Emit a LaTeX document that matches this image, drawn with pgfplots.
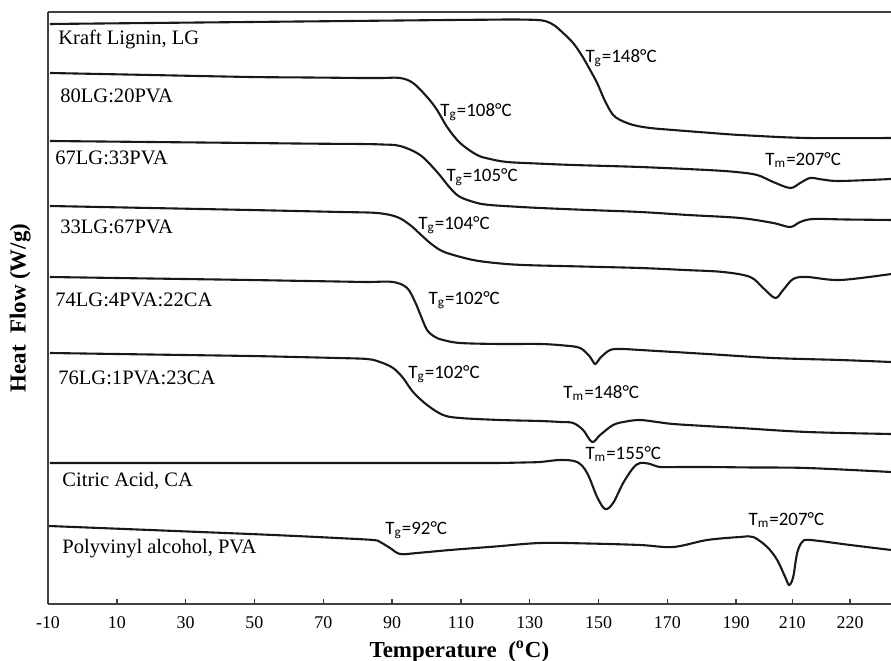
\documentclass[border=0pt]{standalone}
\usepackage{fontspec}
\setmainfont{Liberation Serif}
\newfontfamily\carlito{Carlito}
\usepackage{pgfplots}
\pgfplotsset{compat=1.18}
\tikzset{
  curve/.style={black!90, line width=1.05bp, smooth, tension=0.55},
  lab/.style={anchor=west, inner sep=0pt, font=\fontsize{10.3}{12}\selectfont},
  ann/.style={anchor=west, inner sep=0pt, font=\carlito\fontsize{9.5}{11}\selectfont},
}
\begin{document}
\begin{tikzpicture}
\begin{axis}[
  scale only axis, width=421.5bp, height=296bp,
  xmin=-10, xmax=235, ymin=0, ymax=592,
  axis x line=bottom, axis y line=left,
  axis line style={-, draw=black!75, line width=0.75bp},
  xtick={-10,10,30,50,70,90,110,130,150,170,190,206.3,223.1},
  xticklabels={-10,10,30,50,70,90,110,130,150,170,190,210,220},
  ytick=\empty,
  tick align=inside, major tick length=2.5bp,
  tick style={draw=black!75, line width=0.75bp},
  xticklabel style={font=\fontsize{9}{10}\selectfont, yshift=-3bp},
  xlabel={\bfseries Temperature\ \ (\textsuperscript{o}C)},
  xlabel style={font=\fontsize{11.5}{13}\selectfont, at={(axis description cs:0.488,-0.08)}, anchor=center},
  ylabel={\bfseries Heat\ \ Flow (W/g)},
  ylabel style={font=\fontsize{11.5}{13}\selectfont, at={(axis description cs:-0.033,0.5)}, anchor=center},
  clip=true,
]
\coordinate (SW) at (rel axis cs:0,0);
\coordinate (NE) at (rel axis cs:1,1);
\draw[black!75, line width=0.75bp] (rel axis cs:0,1) -- (rel axis cs:1,1);

% Kraft Lignin, LG
\addplot[curve, no marks] coordinates {
(-9.42,580) (19.65,581) (48.72,582) (77.79,583) (106.86,584) (118,584.3) (125.4,584.5) (132.15,584) (134.9,582.5)
(137.2,578.5) (139.71,571) (142.62,561) (145.23,548) (147.56,534) (149.59,521) (151.34,507)
(152.79,497) (154.24,489) (156.28,484) (160.06,479) (165.00,476) (171.69,474) (181,471.5) (191.16,469)
(210.64,466) (235.06,466)};
% 80LG:20PVA
\addplot[curve, no marks] coordinates {
(-9.42,531) (19.65,529) (48.72,527) (62,526.6) (72,526.3) (80.70,526) (87,526) (92.33,526) (96.10,521) (100.17,507)
(103.08,494) (105.99,477) (109.77,461) (114.71,449) (118.49,445) (123.43,442) (132,440.5) (142.62,439)
(162.09,437) (181.57,434) (190,432) (196.10,429) (200.76,422) (205.70,416) (208.60,421) (211.51,426)
(215,424.5) (220.23,423) (235.06,425)};
% 67LG:33PVA
\addplot[curve, no marks] coordinates {
(-9.42,463) (19.65,462) (48.72,461) (62,460.5) (72,460.2) (80.70,460) (87,459.5) (92.33,458) (98.14,449) (103.08,432) (106.86,416)
(109.77,407) (114.71,401) (118.49,399) (125,397.5) (133.02,396) (147,394) (162.09,392) (176,389) (191.16,386) (200.76,381)
(205.70,377) (208.60,382) (212.38,385) (222,384.5) (235.06,384)};
% 33LG:67PVA
\addplot[curve, no marks] coordinates {
(-9.42,398) (19.65,396) (48.72,394) (62,393) (75,392) (85.64,391) (91.45,387) (95.23,379) (98.14,370) (101.05,361)
(103.95,354) (106.86,350) (113.55,344) (120,341) (128.08,339) (145,337.5) (162.09,336) (175,334) (186.22,332) (194.07,327)
(197.85,316) (201.34,306) (203.66,314) (206.57,325) (210.64,327) (220.23,324) (235.06,330)};
% 74LG:4PVA:22CA
\addplot[curve, no marks] coordinates {
(-9.42,327) (19.65,325.5) (48.72,324) (62,323.2) (74,322.5) (82.73,322) (90.29,322) (94.36,316) (96.69,302) (98.14,290)
(100.17,274) (102.50,267) (104.83,264) (109.77,261) (121.40,260) (133.02,260) (140,258.5) (144.65,256)
(147.56,247) (149.01,240) (150.47,246) (153.37,254) (157,255) (162.09,254) (172,252) (181.57,250) (200.76,246)
(220.23,244) (235.06,242)};
% 76LG:1PVA:23CA
\addplot[curve, no marks] coordinates {
(-9.42,251) (19.65,249.5) (48.72,248) (62,247) (74,246) (82.73,245) (86.51,242) (90.29,236) (93.20,226) (96.10,212)
(100.17,199) (104.83,189) (109.77,186) (121.40,184) (133.02,183) (139,182) (142.62,181) (145.52,174)
(148.14,162) (150.47,169) (154.24,179) (158,182.5) (162.09,184) (167,182) (171.69,180) (181,178) (191.16,176) (210.64,172)
(235.06,170)};
% Citric Acid, CA
\addplot[curve, no marks] coordinates {
(-9.42,141) (19.65,141) (48.72,141) (77.79,141) (106.86,141) (120,141) (128,141.5) (133.02,142) (138.84,144) (143.78,142) (146.69,131)
(149.59,107) (151.92,95) (154.24,101) (157.15,121) (160.06,136) (162.09,141) (165.00,140)
(167.91,137) (174,137) (181.57,137) (195,136.5) (210.64,136) (235.06,132)};
% Polyvinyl alcohol, PVA
\addplot[curve, no marks] coordinates {
(-9.71,78) (19.65,74) (48.72,70) (62,68) (74,66) (84.48,64) (86.51,62) (89.42,56) (92.33,50) (97.27,51) (106.86,54)
(120,57.5) (133.02,61) (147,60.5) (162.09,59) (171.69,57) (181.57,64) (191.16,67) (194.94,67) (199.01,57)
(201.92,44) (204.24,27) (205.41,19) (206.57,27) (207.73,51) (209.19,62) (211.51,64)
(223.14,59) (235.06,54)};

\node[lab] at (axis cs:-7.09,565) {Kraft Lignin, LG};
\node[lab] at (axis cs:-6.51,508) {80LG:20PVA};
\node[lab] at (axis cs:-7.97,446) {67LG:33PVA};
\node[lab] at (axis cs:-6.51,377) {33LG:67PVA};
\node[lab] at (axis cs:-7.97,304) {74LG:4PVA:22CA};
\node[lab] at (axis cs:-7.09,226) {76LG:1PVA:23CA};
\node[lab] at (axis cs:-5.93,123) {Citric Acid, CA};
\node[lab] at (axis cs:-5.93,55) {Polyvinyl alcohol, PVA};

\node[ann] at (axis cs:146.1,546) {T\textsubscript{g}=148°C};
\node[ann] at (axis cs:103.95,492) {T\textsubscript{g}=108°C};
\node[ann] at (axis cs:198.4,444) {T\textsubscript{m}=207°C};
\node[ann] at (axis cs:105.7,427) {T\textsubscript{g}=105°C};
\node[ann] at (axis cs:97.56,379) {T\textsubscript{g}=104°C};
\node[ann] at (axis cs:100.5,304) {T\textsubscript{g}=102°C};
\node[ann] at (axis cs:94.65,230) {T\textsubscript{g}=102°C};
\node[ann] at (axis cs:139.7,211) {T\textsubscript{m}=148°C};
\node[ann] at (axis cs:146.1,150) {T\textsubscript{m}=155°C};
\node[ann] at (axis cs:87.97,74) {T\textsubscript{g}=92°C};
\node[ann] at (axis cs:193.5,84) {T\textsubscript{m}=207°C};
\end{axis}
\pgfresetboundingbox
\path[use as bounding box] ([xshift=-24bp,yshift=-28.5bp]SW) rectangle ([yshift=6bp]NE);
\end{tikzpicture}
\end{document}
